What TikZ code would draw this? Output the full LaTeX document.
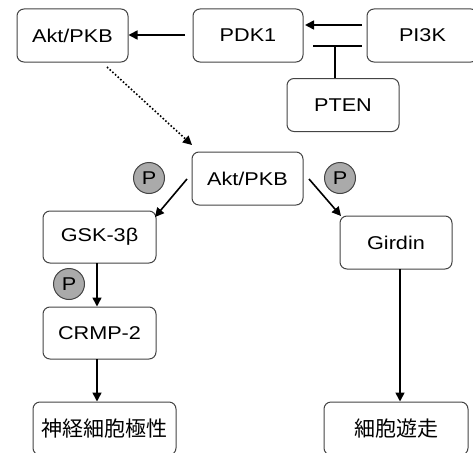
\documentclass[tikz,border=0pt]{standalone}
\usepackage{fontspec}
\setmainfont{Liberation Sans}
\newfontfamily\cjk{Noto Sans CJK JP}
\usetikzlibrary{arrows.meta}
\definecolor{boxline}{HTML}{444444}
\definecolor{pfill}{HTML}{AAAAAA}
\newcommand\wtx[1]{\scalebox{1.17}[1]{#1}}
\tikzset{
  box/.style={draw=boxline, line width=1pt, rounded corners=7pt, fill=white,
    minimum height=53pt, inner sep=0pt, font=\fontsize{18.5}{20}\selectfont},
  cjkbox/.style={box, font=\cjk\fontsize{21}{23}\selectfont},
  pcirc/.style={circle, draw=boxline, line width=1pt, fill=pfill, minimum size=31pt,
    inner sep=0pt, font=\fontsize{18.5}{20}\selectfont},
  arr/.style={line width=1.6pt, -{Triangle[length=9pt,width=9pt]}},
  inh/.style={line width=1.6pt},
}
\begin{document}
\begin{tikzpicture}[x=1pt,y=-1pt]
\useasboundingbox (0,0) rectangle (473,452);
\clip (0,0) rectangle (473,452);
\node[box, minimum width=111pt] (akt1) at (72.5,35.5) {\wtx{Akt/PKB}};
\node[box, minimum width=110pt] (pdk1) at (248,35.5) {\wtx{PDK1}};
\node[box, minimum width=111pt] (pi3k) at (422.5,35.5) {\wtx{PI3K}};
\node[box, minimum width=112pt] (pten) at (343,105) {\wtx{PTEN}};
\node[box, minimum width=111pt] (akt2) at (247.5,178.5) {\wtx{Akt/PKB}};
\node[box, minimum width=113pt, minimum height=52pt] (gsk) at (99.5,237) {\wtx{GSK-3β}};
\node[box, minimum width=113pt, minimum height=52pt] (crmp) at (99.5,333) {\wtx{CRMP-2}};
\node[cjkbox, minimum width=143pt] (neuro) at (104.5,428.5) {神経細胞極性};
\node[box, minimum width=112pt] (girdin) at (396,242.5) {\wtx{Girdin}};
\node[cjkbox, minimum width=144pt] (migr) at (396,428.5) {細胞遊走};
\node[pcirc] (p1) at (149,178) {\wtx{P}};
\node[pcirc] (p2) at (340,178) {\wtx{P}};
\node[pcirc] (p3) at (69,284) {\wtx{P}};
% connector ends
\coordinate (pdkL) at (185,35);
\coordinate (pi3kL) at (362,25);
\coordinate (pdkR) at (305,25);
\coordinate (barL) at (313,46);
\coordinate (barR) at (362,46);
\coordinate (barM) at (335,46);
\coordinate (dotS) at (107,67);
\coordinate (dotE) at (192,145);
\coordinate (a2L) at (187,179);
\coordinate (gskT) at (155,217);
\coordinate (a2R) at (309,179);
\coordinate (girT) at (341,216);
\draw[arr] (pdkL) -- (akt1.east |- pdkL);
\draw[arr] (pi3kL) -- (pdkR);
\draw[inh] (barL) -- (barR);
\draw[inh] (barM) -- (barM |- pten.north);
\draw[line width=1.6pt, dotted, -{Triangle[length=9pt,width=9pt]}] (dotS) -- (dotE);
\draw[arr] (a2L) -- (gskT);
\draw[arr] (a2R) -- (girT);
\draw[arr] (97,263) coordinate (gskB) -- (gskB |- crmp.north);
\draw[arr] (97,359) coordinate (crmpB) -- (crmpB |- neuro.north);
\draw[arr] (400,269) coordinate (girB) -- (girB |- migr.north);
\end{tikzpicture}
\end{document}
